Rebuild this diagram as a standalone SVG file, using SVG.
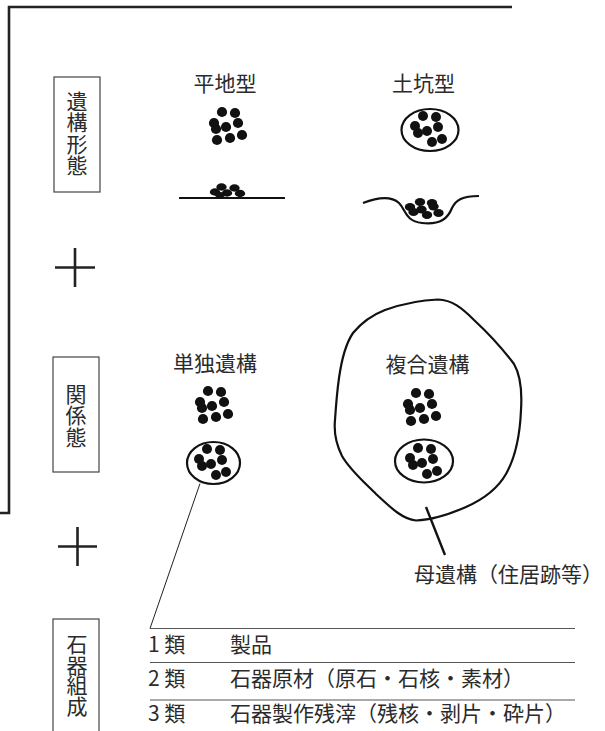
<svg xmlns="http://www.w3.org/2000/svg" xmlns:xlink="http://www.w3.org/1999/xlink" width="605" height="731" viewBox="0 0 605 731">
<style>
text{font-family:"Noto Sans CJK JP","Noto Sans",sans-serif;font-size:21px;fill:#2b2b2b}
.c{text-anchor:middle}
.v{writing-mode:vertical-rl;text-orientation:upright}
.box{fill:#fff;stroke:#444;stroke-width:1.2}
.thick{fill:none;stroke:#111;stroke-width:2.2}
.frame{fill:none;stroke:#222;stroke-width:2.6}
.plus{stroke:#222;stroke-width:2.6}
.rule{stroke:#555;stroke-width:1.2}
.thin{stroke:#222;stroke-width:1;fill:none}
.dot{fill:#111}
</style>
<defs>
<g id="cluster" class="dot">
<circle cx="-6" cy="-14" r="5.1"/><circle cx="7" cy="-13" r="5.1"/><circle cx="-14" cy="-3" r="5.1"/>
<circle cx="10" cy="-3" r="5.1"/><circle cx="-2" cy="1" r="5.1"/><circle cx="-12" cy="3" r="5.1"/>
<circle cx="-11" cy="14" r="5.1"/><circle cx="2" cy="12" r="5.1"/><circle cx="14" cy="9" r="5.1"/>
</g>
<g id="inner" class="dot">
<circle cx="-6" cy="-13" r="5"/><circle cx="7" cy="-12" r="5"/><circle cx="-14" cy="-3" r="5"/>
<circle cx="9" cy="-2" r="5"/><circle cx="-2" cy="2" r="5"/><circle cx="-11" cy="4" r="5"/>
<circle cx="3" cy="13" r="5"/><circle cx="13" cy="10" r="5"/>
</g>
</defs>
<rect width="605" height="731" fill="#fff"/>

<path class="frame" d="M0,513 H9 V7 H512"/>

<g id="label-ikokeitai">
<rect class="box" x="54" y="77" width="46" height="115"/>
<text class="v" x="77" y="90.5" letter-spacing="0.5">遺構形態</text>
</g>
<g id="plus1"><line class="plus" x1="55" y1="267.5" x2="95" y2="267.5"/><line class="plus" x1="75" y1="248" x2="75" y2="287"/></g>

<g id="heichi">
<text class="c" x="225" y="90.5">平地型</text>
<use xlink:href="#cluster" x="228" y="126"/>
<line x1="179" y1="198" x2="285" y2="198" stroke="#111" stroke-width="2.2"/>
<g class="dot">
<ellipse cx="221.5" cy="187" rx="5.2" ry="3.7"/><ellipse cx="234.5" cy="188" rx="5.2" ry="3.7"/>
<ellipse cx="215" cy="192" rx="5.2" ry="3.7"/><ellipse cx="227" cy="193" rx="5.2" ry="3.7"/>
<ellipse cx="240" cy="193.5" rx="5.2" ry="3.7"/><ellipse cx="220" cy="195" rx="5" ry="3"/>
</g>
</g>

<g id="dokou">
<text class="c" x="423.5" y="90.5">土坑型</text>
<ellipse class="thick" cx="430" cy="130" rx="28.5" ry="21"/>
<use xlink:href="#inner" x="429" y="129"/>
<path class="thick" d="M363,203 C376,198 390,195 399,203 C406,210 405,221 422,223 C441,225 448,218 452,208 C456,200 462,196 479,196"/>
<g class="dot">
<ellipse cx="420" cy="202" rx="5.2" ry="4"/><ellipse cx="432" cy="203" rx="5.2" ry="4"/>
<ellipse cx="410" cy="207" rx="5.2" ry="4"/><ellipse cx="421.5" cy="209.5" rx="5.2" ry="4"/>
<ellipse cx="433.5" cy="206.5" rx="5.2" ry="4"/><ellipse cx="413.5" cy="212" rx="5.2" ry="4"/>
<ellipse cx="427" cy="215" rx="5.2" ry="4"/><ellipse cx="438.5" cy="213" rx="5.2" ry="4"/>
</g>
</g>

<g id="label-kankeitai">
<rect class="box" x="53" y="357" width="46" height="115"/>
<text class="v" x="76" y="383.5" letter-spacing="0.5">関係態</text>
</g>
<g id="plus2"><line class="plus" x1="58" y1="546.5" x2="97" y2="546.5"/><line class="plus" x1="77.5" y1="527" x2="77.5" y2="566"/></g>

<g id="tandoku">
<text class="c" x="215" y="370.5">単独遺構</text>
<use xlink:href="#cluster" x="214" y="405"/>
<ellipse class="thick" cx="213.5" cy="463" rx="26.5" ry="21"/>
<use xlink:href="#inner" x="213" y="462"/>
</g>

<g id="fukugou">
<path class="thick" d="M353,333 C362,322 372,315 385,310 C402,304 420,300 438,299.5 C452,300 462,308 474,320 C488,333 502,348 514,364 C521,376 522,394 521,410 C520,434 515,458 506,474 C498,488 484,499 466,507 C450,514 432,520 416,520.5 C402,519 390,507 376,494 C364,482 350,470 342,456 C336,444 334,430 335,420 C336,405 337,392 339,378 C341,364 344,346 353,333 Z"/>
<text class="c" x="427.5" y="371.5">複合遺構</text>
<use xlink:href="#cluster" x="422" y="407"/>
<ellipse class="thick" cx="424" cy="461" rx="29" ry="21.5"/>
<use xlink:href="#inner" x="424" y="461"/>
</g>

<g id="connectors">
<line x1="426" y1="507" x2="445" y2="555" stroke="#111" stroke-width="2.4"/>
<line class="thin" x1="200" y1="483.5" x2="150" y2="628.5"/>
</g>

<g id="bo-iko">
<text x="414" y="581.5">母遺構（住居跡等）</text>
</g>

<g id="label-sekki">
<rect class="box" x="53" y="619" width="46" height="120"/>
<text class="v" x="77" y="633.5" letter-spacing="-0.3">石器組成</text>
</g>

<g id="table">
<line class="rule" x1="150" y1="628.5" x2="575" y2="628.5"/>
<line class="rule" x1="150" y1="662.5" x2="575" y2="662.5"/>
<line class="rule" x1="150" y1="700" x2="575" y2="700"/>
<text x="148" y="651.5">1 類</text><text x="230" y="651.5">製品</text>
<text x="148" y="685.5">2 類</text><text x="230" y="685.5">石器原材（原石・石核・素材）</text>
<text x="148" y="720.5">3 類</text><text x="230" y="720.5">石器製作残滓（残核・剥片・砕片）</text>
</g>
</svg>
